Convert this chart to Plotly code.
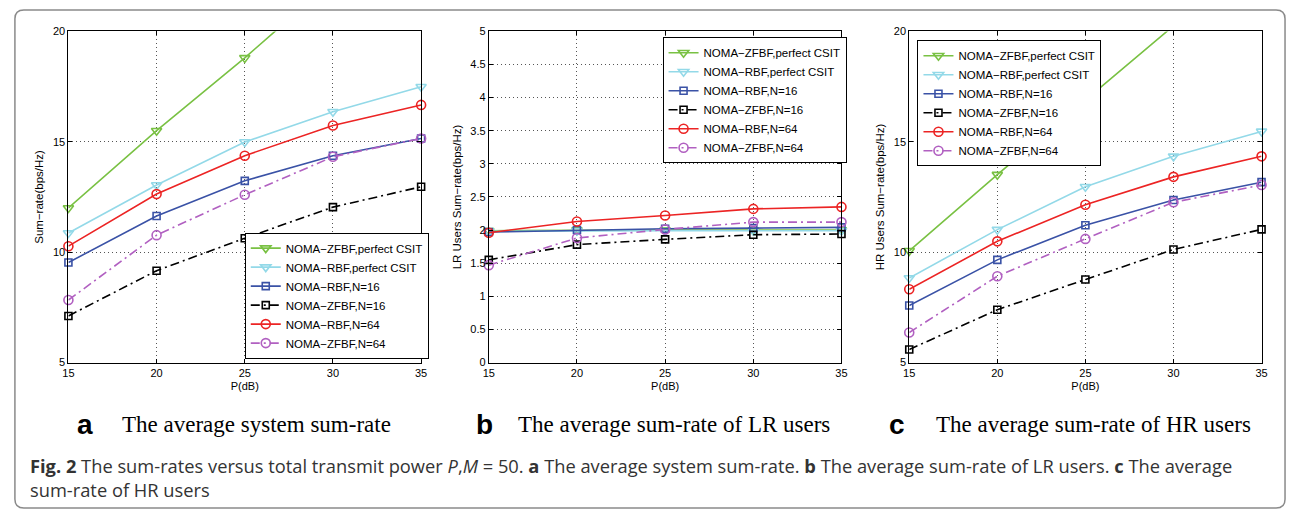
import plotly.graph_objects as go

W, H = 1294, 516

# ---------------- data ----------------
power_db = [15, 20, 25, 30, 35]

series_names = [
    "NOMA\u2212ZFBF,perfect CSIT",
    "NOMA\u2212RBF,perfect CSIT",
    "NOMA\u2212RBF,N=16",
    "NOMA\u2212ZFBF,N=16",
    "NOMA\u2212RBF,N=64",
    "NOMA\u2212ZFBF,N=64",
]

# (a) average system sum-rate
sys_zfbf_perfect = [12.0, 15.5, 18.8, 22.3, 25.3]
sys_rbf_perfect = [10.87, 13.04, 14.99, 16.36, 17.49]
sys_rbf_n16 = [9.53, 11.64, 13.23, 14.37, 15.15]
sys_zfbf_n16 = [7.11, 9.16, 10.63, 12.04, 12.96]
sys_rbf_n64 = [10.27, 12.63, 14.37, 15.74, 16.67]
sys_zfbf_n64 = [7.83, 10.77, 12.60, 14.32, 15.15]

# (b) average sum-rate of LR users
lr_zfbf_perfect = [1.99, 2.00, 2.00, 2.00, 2.00]
lr_rbf_perfect = [1.98, 1.99, 1.99, 1.99, 1.99]
lr_rbf_n16 = [1.97, 2.00, 2.02, 2.03, 2.04]
lr_zfbf_n16 = [1.55, 1.78, 1.86, 1.93, 1.94]
lr_rbf_n64 = [1.96, 2.13, 2.22, 2.32, 2.35]
lr_zfbf_n64 = [1.47, 1.88, 2.01, 2.12, 2.12]

# (c) average sum-rate of HR users
hr_zfbf_perfect = [10.06, 13.51, 16.89, 20.25, 23.3]
hr_rbf_perfect = [8.83, 11.02, 12.96, 14.34, 15.47]
hr_rbf_n16 = [7.58, 9.65, 11.22, 12.36, 13.17]
hr_zfbf_n16 = [5.59, 7.39, 8.76, 10.12, 11.03]
hr_rbf_n64 = [8.32, 10.49, 12.15, 13.41, 14.34]
hr_zfbf_n64 = [6.36, 8.91, 10.60, 12.26, 13.04]

y_titles = ["Sum\u2212rate(bps/Hz)", "LR Users Sum\u2212rate(bps/Hz)", "HR Users Sum\u2212rate(bps/Hz)"]
x_title = "P(dB)"
sub_letters = ["a", "b", "c"]
sub_texts = ["The average system sum-rate", "The average sum-rate of LR users", "The average sum-rate of HR users"]

# ---------------- styles ----------------
colors = ["#79c143", "#93d9e8", "#3a52a6", "#000000", "#ec2424", "#b160c1"]
symbols = ["triangle-down-open", "triangle-down-open", "square-open", "square-open", "circle-open", "circle-open"]
msizes = [9, 9, 7, 7, 9, 9]
dashdot = "9px,4px,2px,4px"
dashes = ["solid", "solid", "solid", dashdot, "solid", dashdot]

def px_x(p):
    return p / W

def px_y(p):
    return 1 - p / H

# panel geometry in pixels (left, right)
panels_x = [(63, 419), (487.3, 843.3), (911.7, 1267.3)]
plot_top, plot_bot = 26, 365
# (x, y, yanchor)
legend_pos = [(241, 361, "bottom"), (662.7, 32, "top"), (920, 35, "top")]

panel_data = [
    [sys_zfbf_perfect, sys_rbf_perfect, sys_rbf_n16, sys_zfbf_n16, sys_rbf_n64, sys_zfbf_n64],
    [lr_zfbf_perfect, lr_rbf_perfect, lr_rbf_n16, lr_zfbf_n16, lr_rbf_n64, lr_zfbf_n64],
    [hr_zfbf_perfect, hr_rbf_perfect, hr_rbf_n16, hr_zfbf_n16, hr_rbf_n64, hr_zfbf_n64],
]
y_ranges = [[5, 20], [0, 5], [5, 20]]
y_dticks = [5, 0.5, 5]

fig = go.Figure()
axis_font = dict(family="Liberation Sans, Arial, sans-serif", size=11, color="#000")

for p in range(3):
    sfx = "" if p == 0 else str(p + 1)
    leg = "legend" if p == 0 else "legend" + str(p + 1)
    for i, name in enumerate(series_names):
        fig.add_trace(go.Scatter(
            x=power_db, y=panel_data[p][i], name=name, mode="lines+markers",
            xaxis="x" + sfx, yaxis="y" + sfx, legend=leg,
            line=dict(color=colors[i], width=1.6, dash=dashes[i]),
            marker=dict(symbol=symbols[i], size=msizes[i], color=colors[i],
                        line=dict(color=colors[i], width=1.6)),
            cliponaxis=False, showlegend=True,
        ))
    x0, x1 = panels_x[p]
    common = dict(showline=True, linecolor="#000", linewidth=1, mirror="allticks",
                  ticks="inside", ticklen=4, tickcolor="#000", tickfont=axis_font,
                  showgrid=True, gridcolor="#555", gridwidth=1, griddash="1px,3px",
                  zeroline=False)
    fig.update_layout(**{
        "xaxis" + sfx: dict(domain=[px_x(x0), px_x(x1)], range=[15, 35], dtick=5, tick0=15,
                            anchor="y" + sfx,
                            title=dict(text=x_title, font=axis_font, standoff=4), **common),
        "yaxis" + sfx: dict(domain=[px_y(plot_bot), px_y(plot_top)], range=y_ranges[p],
                            dtick=y_dticks[p], anchor="x" + sfx,
                            title=dict(text=y_titles[p], font=dict(axis_font, size=11.5), standoff=6),
                            **common),
    })
    lx, ly, lya = legend_pos[p]
    fig.update_layout(**{
        leg: dict(x=px_x(lx), y=px_y(ly), xanchor="left", yanchor=lya,
                  bgcolor="#fff", bordercolor="#000", borderwidth=1,
                  font=dict(family="Liberation Sans, Arial, sans-serif", size=11.5, color="#000"),
                  tracegroupgap=0, itemwidth=30)
    })

# subtitles
letter_x = [80, 483, 899]
text_x = [115, 515, 937]
for p in range(3):
    fig.add_annotation(x=px_x(letter_x[p]), y=px_y(428), xref="paper", yref="paper",
                       text="<b>" + sub_letters[p] + "</b>", showarrow=False,
                       xanchor="center", yanchor="middle",
                       font=dict(family="Liberation Sans, Arial, sans-serif", size=28, color="#000"))
    fig.add_annotation(x=px_x(text_x[p]), y=px_y(428), xref="paper", yref="paper",
                       text=sub_texts[p], showarrow=False, xanchor="left", yanchor="middle",
                       font=dict(family="Liberation Serif, Times New Roman, serif", size=23, color="#000"))

caption_1 = ("<b>Fig. 2</b> The sum-rates versus total transmit power <i>P</i>,<i>M</i> = 50. "
             "<b>a</b> The average system sum-rate. <b>b</b> The average sum-rate of LR users. "
             "<b>c</b> The average")
caption_2 = "sum-rate of HR users"
cap_font = dict(family="Open Sans, Noto Sans, sans-serif", size=18.3, color="#333")
fig.add_annotation(x=px_x(22), y=px_y(470), xref="paper", yref="paper", text=caption_1,
                   showarrow=False, xanchor="left", yanchor="middle", font=cap_font)
fig.add_annotation(x=px_x(22), y=px_y(495), xref="paper", yref="paper", text=caption_2,
                   showarrow=False, xanchor="left", yanchor="middle", font=cap_font)

# rounded outer frame
bx0, by0, bx1, by1, r = 9, 4, 1291, 514, 9
path = (f"M {px_x(bx0 + r)},{px_y(by0)} L {px_x(bx1 - r)},{px_y(by0)} "
        f"Q {px_x(bx1)},{px_y(by0)} {px_x(bx1)},{px_y(by0 + r)} "
        f"L {px_x(bx1)},{px_y(by1 - r)} Q {px_x(bx1)},{px_y(by1)} {px_x(bx1 - r)},{px_y(by1)} "
        f"L {px_x(bx0 + r)},{px_y(by1)} Q {px_x(bx0)},{px_y(by1)} {px_x(bx0)},{px_y(by1 - r)} "
        f"L {px_x(bx0)},{px_y(by0 + r)} Q {px_x(bx0)},{px_y(by0)} {px_x(bx0 + r)},{px_y(by0)} Z")
fig.add_shape(type="path", path=path, xref="paper", yref="paper",
              line=dict(color="#8a8a8a", width=1.5), layer="below")

fig.update_layout(width=W, height=H, margin=dict(l=0, r=0, t=0, b=0),
                  paper_bgcolor="#fff", plot_bgcolor="#fff", showlegend=True)

fig.write_html("out.html", config={"displayModeBar": False},
               post_script="document.body.style.margin='0';document.body.style.overflow='hidden';")
